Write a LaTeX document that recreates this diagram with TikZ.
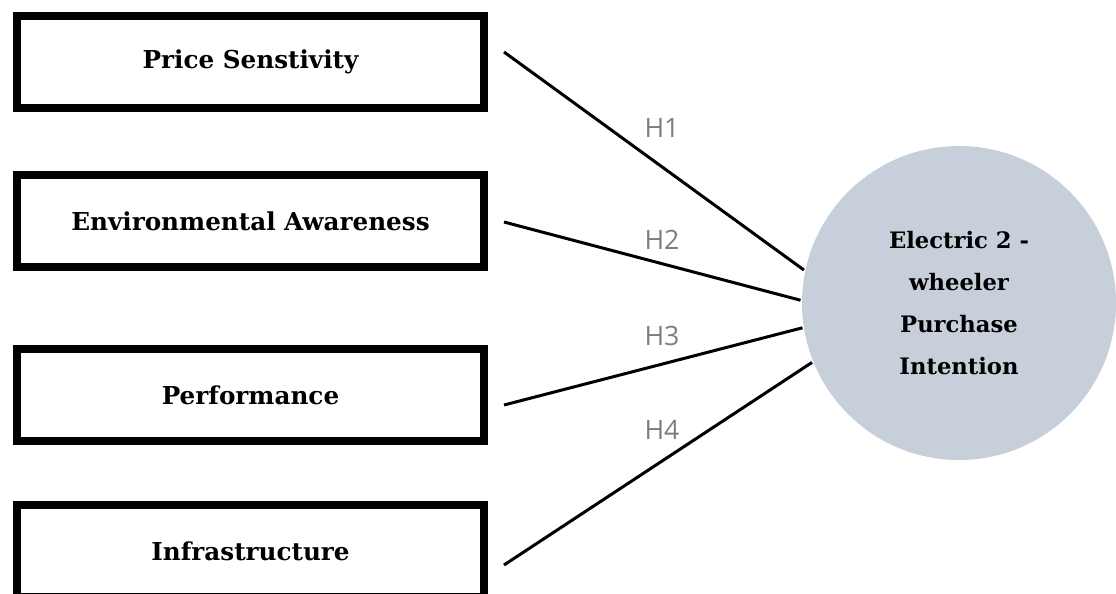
\documentclass[tikz,border=0pt]{standalone}
\usepackage{fontspec}
\newfontfamily\boxfont{DejaVu Serif}
\newfontfamily\hypfont{Open Sans}
\definecolor{intentfill}{RGB}{199,208,218}
\definecolor{hypgray}{RGB}{125,125,125}

\begin{document}
\begin{tikzpicture}[x=.75pt,y=-.75pt,line width=2.25pt,
  factor/.style={draw,rectangle,line width=6pt,minimum width=350.25pt,minimum height=69pt,inner sep=0pt,font=\boxfont\bfseries\fontsize{18.5}{22}\selectfont},
  hyp/.style={anchor=center,inner sep=1pt,text=hypgray,font=\hypfont\fontsize{20}{24}\selectfont}]
\path[use as bounding box] (0,0) rectangle (1116,593);
% the four factors
\node[factor] (price) at (250.5,62) {Price Senstivity};
\node[factor] (env) at (250.5,221) {Environmental Awareness};
\node[factor] (perf) at (250.5,395) {Performance};
\node[factor] (infra) at (250.5,551) {Infrastructure};
% dependent variable
\node[circle,fill=intentfill,minimum size=235.5pt,inner sep=0pt,align=center,font=\boxfont\bfseries\fontsize{17}{31.5}\selectfont] (intent) at (959,303) {Electric 2 -\\wheeler\\Purchase\\Intention};
% where the paths leave the boxes
\coordinate (s1) at (504,52);
\coordinate (s2) at (504,222);
\coordinate (s3) at (504,405);
\coordinate (s4) at (504,565);
\draw (s1) -- (intent.168);
\draw (s2) -- (intent.179);
\draw (s3) -- (intent.189);
\draw (s4) -- (intent.202);
% hypothesis labels
\node[hyp] (h1) at (662,128) {H1};
\node[hyp] (h2) at (662,240) {H2};
\node[hyp] (h3) at (662,336) {H3};
\node[hyp] (h4) at (662,430) {H4};
\end{tikzpicture}
\end{document}
